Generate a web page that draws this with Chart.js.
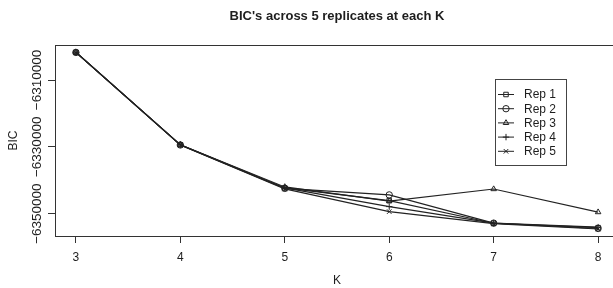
<!DOCTYPE html>
<html>
<head>
<meta charset="utf-8">
<script src="https://cdn.jsdelivr.net/npm/chart.js@4.4.1/dist/chart.umd.min.js"></script>
<style>
html, body { margin: 0; padding: 0; background: #fff; overflow: hidden; }
#wrap { position: relative; width: 613px; height: 288px; overflow: hidden; }
</style>
</head>
<body>
<div id="wrap"><canvas id="bicChart" width="640" height="288"></canvas></div>
<script>
// values
const kValues = [3, 4, 5, 6, 7, 8];
const rep1 = [-6301700, -6329400, -6342300, -6346100, -6352900, -6354200];
const rep2 = [-6301750, -6329450, -6342450, -6344400, -6352850, -6354450];
const rep3 = [-6301650, -6329350, -6342000, -6346250, -6342650, -6349550];
const rep4 = [-6301700, -6329400, -6342300, -6347900, -6352850, -6354050];
const rep5 = [-6301750, -6329500, -6342600, -6349400, -6353000, -6354600];
const repNames = ['Rep 1', 'Rep 2', 'Rep 3', 'Rep 4', 'Rep 5'];
const repMarkers = ['rect', 'circle', 'triangle', 'cross', 'crossRot'];
const yTickValues = [-6350000, -6340000, -6330000, -6320000, -6310000, -6300000];
const yLabelValues = [-6350000, -6330000, -6310000];

const ink = '#1e1e1e';
const lineInk = '#222';
const fontFamily = "'Liberation Sans', Arial, sans-serif";

const series = [rep1, rep2, rep3, rep4, rep5];

function makeDataset(values, i) {
    return {
        label: repNames[i],
        data: values.map((v, j) => ({ x: kValues[j], y: v })),
        borderColor: lineInk,
        borderWidth: 1.1,
        pointStyle: repMarkers[i],
        pointRadius: 3.2,
        pointBorderColor: lineInk,
        pointBackgroundColor: 'rgba(0,0,0,0)',
        pointBorderWidth: 1,
        fill: false,
        tension: 0
    };
}

// box around the plot region + legend in the upper right
const boxAndLegend = {
    id: 'boxAndLegend',
    afterDraw(chart) {
        const ctx = chart.ctx;
        const a = chart.chartArea;
        ctx.save();
        ctx.strokeStyle = '#333';
        ctx.lineWidth = 1;
        ctx.strokeRect(Math.round(a.left) + 0.5, Math.round(a.top) + 0.5,
            Math.round(a.right - a.left), Math.round(a.bottom - a.top));

        // legend
        const lx = 495, ly = 79, lw = 71, lh = 86, rowH = 14.2;
        ctx.fillStyle = '#fff';
        ctx.fillRect(lx, ly, lw, lh);
        ctx.strokeStyle = '#444';
        ctx.strokeRect(lx + 0.5, ly + 0.5, lw, lh);
        ctx.font = '12px ' + fontFamily;
        ctx.textBaseline = 'middle';
        ctx.textAlign = 'left';
        chart.data.datasets.forEach((ds, i) => {
            const cy = ly + 15 + i * rowH;
            ctx.strokeStyle = lineInk;
            ctx.lineWidth = 1;
            ctx.beginPath();
            ctx.moveTo(lx + 3, cy + 0.5);
            ctx.lineTo(lx + 19, cy + 0.5);
            ctx.stroke();
            ctx.fillStyle = 'rgba(0,0,0,0)';
            Chart.helpers.drawPoint(ctx, {
                pointStyle: ds.pointStyle,
                radius: 3.2,
                borderWidth: 1,
                rotation: 0
            }, lx + 11, cy + 0.5);
            ctx.fillStyle = ink;
            ctx.fillText(ds.label, lx + 29, cy + 1);
        });
        ctx.restore();
    }
};

const chart = new Chart(document.getElementById('bicChart').getContext('2d'), {
    type: 'line',
    data: {
        datasets: series.map(makeDataset)
    },
    options: {
        responsive: false,
        animation: false,
        events: [],
        layout: {
            padding: { left: 0, right: 21, top: 0, bottom: 0 }
        },
        plugins: {
            legend: { display: false },
            tooltip: { enabled: false },
            title: {
                display: true,
                text: "BIC's across 5 replicates at each K",
                fullSize: false,
                color: ink,
                font: { family: fontFamily, size: 13, weight: 'bold' },
                padding: { top: 9, bottom: 20.4 }
            }
        },
        scales: {
            x: {
                type: 'linear',
                min: 2.8,
                max: 8.2,
                afterBuildTicks: s => { s.ticks = kValues.map(v => ({ value: v })); },
                afterFit: s => { s.height = 52; },
                grid: { drawOnChartArea: false, tickLength: 7, color: '#333' },
                border: { color: '#333' },
                ticks: {
                    color: ink,
                    padding: 7,
                    maxRotation: 0,
                    font: { family: fontFamily, size: 12 },
                    callback: v => String(v)
                },
                title: {
                    display: true,
                    text: 'K',
                    color: ink,
                    font: { family: fontFamily, size: 12 },
                    padding: { top: 0, bottom: 0 }
                }
            },
            y: {
                min: -6356700,
                max: -6299520,
                afterBuildTicks: s => { s.ticks = yTickValues.map(v => ({ value: v })); },
                afterFit: s => { s.width = 55; },
                grid: { drawOnChartArea: false, tickLength: 7, color: '#333' },
                border: { color: '#333' },
                ticks: {
                    color: ink,
                    minRotation: 90,
                    maxRotation: 90,
                    crossAlign: 'center',
                    padding: -20,
                    font: { family: fontFamily, size: 13.5 },
                    callback: v => yLabelValues.includes(v) ? String(v).replace('-', '\u2212') : ''
                },
                title: {
                    display: true,
                    text: 'BIC',
                    color: ink,
                    font: { family: fontFamily, size: 12 },
                    padding: { top: 6, bottom: 0 }
                }
            }
        }
    },
    plugins: [boxAndLegend]
});
</script>
</body>
</html>
